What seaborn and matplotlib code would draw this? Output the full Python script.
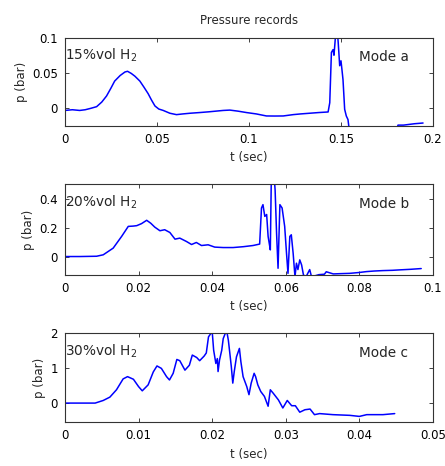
import matplotlib
matplotlib.use("Agg")
import matplotlib.pyplot as plt
import seaborn as sns
import pandas as pd

# ---- data ----
t_a = [0.000, 0.004, 0.008, 0.011, 0.014, 0.0172, 0.020, 0.0226, 0.025, 0.027, 0.030,
       0.0326, 0.034, 0.036, 0.038, 0.0407, 0.043, 0.0452, 0.047, 0.0489, 0.051, 0.0534,
       0.057, 0.0606, 0.064, 0.068, 0.0733, 0.078, 0.082, 0.086, 0.0896, 0.094, 0.0986,
       0.104, 0.1095, 0.114, 0.1186, 0.124, 0.128, 0.133, 0.138, 0.143, 0.1439, 0.1448,
       0.1457, 0.1462, 0.1468, 0.1475, 0.1480, 0.1485, 0.1493, 0.1500, 0.1505, 0.1511,
       0.1520, 0.1529, 0.1538, 0.1547, 0.160, 0.170, 0.179, 0.181, 0.184, 0.187, 0.190,
       0.1946]
p_a = [-0.004, -0.003, -0.004, -0.003, -0.001, 0.0014, 0.008, 0.0167, 0.028, 0.038, 0.046,
       0.051, 0.052, 0.049, 0.045, 0.038, 0.029, 0.020, 0.011, 0.0024, -0.002, -0.004,
       -0.008, -0.010, -0.009, -0.008, -0.007, -0.006, -0.005, -0.004, -0.0035, -0.005, -0.007,
       -0.009, -0.0119, -0.012, -0.0119, -0.010, -0.009, -0.008, -0.007, -0.0062, 0.007, 0.079,
       0.083, 0.075, 0.095, 0.120, 0.110, 0.0928, 0.060, 0.067, 0.055, 0.040,
       -0.0024, -0.012, -0.017, -0.036, -0.045, -0.045, -0.040, -0.025, -0.025, -0.024, -0.023,
       -0.022]

t_b = [0.000, 0.004, 0.0086, 0.0104, 0.0131, 0.0154, 0.0172, 0.0185, 0.0195, 0.0208, 0.0222,
       0.0233, 0.0244, 0.0258, 0.0271, 0.0285, 0.0299, 0.0312, 0.0330, 0.0344, 0.0357,
       0.0371, 0.0389, 0.0407, 0.0430, 0.0457, 0.0485, 0.0511, 0.0529, 0.0534, 0.0538,
       0.0543, 0.0548, 0.0552, 0.0555, 0.0558, 0.0561, 0.0567, 0.0571, 0.0575, 0.0579,
       0.0584, 0.0590, 0.0597, 0.0602, 0.0606, 0.0611, 0.0615, 0.0620, 0.0625, 0.0629,
       0.0633, 0.0638, 0.0643, 0.0648, 0.0655, 0.0665, 0.0670, 0.0690, 0.0705, 0.0710,
       0.0729, 0.0750, 0.0774, 0.0800, 0.0819, 0.0840, 0.0864, 0.0890, 0.0910, 0.0940,
       0.0968]
p_b = [0.000, 0.000, 0.002, 0.012, 0.058, 0.139, 0.208, 0.210, 0.213, 0.227, 0.250,
       0.230, 0.203, 0.178, 0.185, 0.166, 0.120, 0.127, 0.104, 0.083, 0.097,
       0.076, 0.081, 0.065, 0.062, 0.062, 0.068, 0.076, 0.086, 0.335, 0.358,
       0.277, 0.290, 0.139, 0.092, 0.046, 0.600, 0.600, 0.460, 0.160, -0.081,
       0.358, 0.335, 0.208, 0.023, -0.116, 0.139, 0.150, 0.023, -0.140, -0.046,
       -0.090, -0.023, -0.058, -0.127, -0.140, -0.090, -0.140, -0.125, -0.122, -0.105,
       -0.120, -0.118, -0.116, -0.110, -0.104, -0.100, -0.097, -0.095, -0.092, -0.088,
       -0.083]

t_c = [0.000, 0.0041, 0.0052, 0.0061, 0.0070, 0.0079, 0.0085, 0.0093, 0.0100, 0.0105,
       0.0113, 0.0120, 0.0125, 0.0131, 0.0138, 0.0142, 0.0147, 0.0152, 0.0156, 0.0163,
       0.0169, 0.0173, 0.0179, 0.0183, 0.0189, 0.0192, 0.0195, 0.0198, 0.0200, 0.0202,
       0.0205, 0.0207, 0.0208, 0.0210, 0.0213, 0.0215, 0.0218, 0.0220, 0.0222, 0.0224,
       0.0226, 0.0228, 0.0230, 0.0233, 0.0237, 0.0239, 0.0242, 0.0247, 0.0250, 0.0253,
       0.0257, 0.0259, 0.0262, 0.0266, 0.0271, 0.0276, 0.0279, 0.0283, 0.0290, 0.0296,
       0.0302, 0.0308, 0.0313, 0.0319, 0.0326, 0.0333, 0.0339, 0.0346, 0.0364, 0.0387,
       0.0400, 0.0410, 0.0432, 0.0448]
p_c = [0.000, 0.000, 0.075, 0.170, 0.380, 0.690, 0.755, 0.680, 0.470, 0.350,
       0.520, 0.890, 1.060, 0.990, 0.755, 0.660, 0.850, 1.245, 1.210, 0.940,
       1.080, 1.370, 1.300, 1.210, 1.340, 1.430, 1.890, 1.980, 2.050, 1.510,
       1.130, 1.270, 0.900, 1.230, 1.510, 1.840, 2.000, 2.030, 1.790, 1.420,
       1.040, 0.570, 0.900, 1.320, 1.560, 1.180, 0.755, 0.470, 0.240, 0.570,
       0.850, 0.755, 0.520, 0.330, 0.190, -0.090, 0.380, 0.280, 0.090, -0.140,
       0.075, -0.075, -0.075, -0.260, -0.190, -0.170, -0.330, -0.300, -0.330, -0.350,
       -0.380, -0.330, -0.330, -0.300]

conc_labels = ["15%vol H$_2$", "20%vol H$_2$", "30%vol H$_2$"]
mode_labels = ["Mode a", "Mode b", "Mode c"]
xlims = [(0, 0.2), (0, 0.1), (0, 0.05)]
ylims = [(-0.026, 0.1), (-0.127, 0.5), (-0.54, 2.0)]
xticks = [[0, 0.05, 0.1, 0.15, 0.2], [0, 0.02, 0.04, 0.06, 0.08, 0.1],
          [0, 0.01, 0.02, 0.03, 0.04, 0.05]]
xticklabels = [["0", "0.05", "0.1", "0.15", "0.2"],
               ["0", "0.02", "0.04", "0.06", "0.08", "0.1"],
               ["0", "0.01", "0.02", "0.03", "0.04", "0.05"]]
yticks = [[0, 0.05, 0.1], [0, 0.2, 0.4], [0, 1, 2]]
yticklabels = [["0", "0.05", "0.1"], ["0", "0.2", "0.4"], ["0", "1", "2"]]

sns.set_style("white")
plt.rcParams["font.family"] = ["DejaVu Sans"]

fig = plt.figure(figsize=(4.45, 4.66), dpi=100)
rects = [[0.146, 0.730, 0.827, 0.189],
         [0.146, 0.410, 0.827, 0.195],
         [0.146, 0.0944, 0.827, 0.191]]
series = [(t_a, p_a), (t_b, p_b), (t_c, p_c)]

for i in range(3):
    ax = fig.add_axes(rects[i])
    df = pd.DataFrame({"t": series[i][0], "p": series[i][1]})
    sns.lineplot(data=df, x="t", y="p", ax=ax, color="#0000ff", linewidth=1.1,
                 estimator=None, sort=False)
    ax.set_xlim(*xlims[i])
    ax.set_ylim(*ylims[i])
    ax.set_xticks(xticks[i])
    ax.set_xticklabels(xticklabels[i], fontsize=8.5)
    ax.set_yticks(yticks[i])
    ax.set_yticklabels(yticklabels[i], fontsize=8.5)
    ax.tick_params(direction="in", length=3, width=0.6, top=True, right=True,
                   bottom=True, left=True, pad=5, colors="#222222")
    ax.tick_params(labelcolor="black")
    for s in ax.spines.values():
        s.set_color("#333333")
        s.set_linewidth(0.8)
    ax.set_xlabel("t (sec)", fontsize=8.5, labelpad=4)
    ax.set_ylabel("p (bar)", fontsize=8.5, labelpad=3)
    ax.text(0.0, 0.80, conc_labels[i], transform=ax.transAxes, fontsize=9.8,
            ha="left", va="center")
    ax.text(0.80, 0.78, mode_labels[i], transform=ax.transAxes, fontsize=9.8,
            ha="left", va="center")
    if i == 0:
        ax.set_title("Pressure records", fontsize=8.5, pad=10)

fig.savefig("out.png", dpi=100)
